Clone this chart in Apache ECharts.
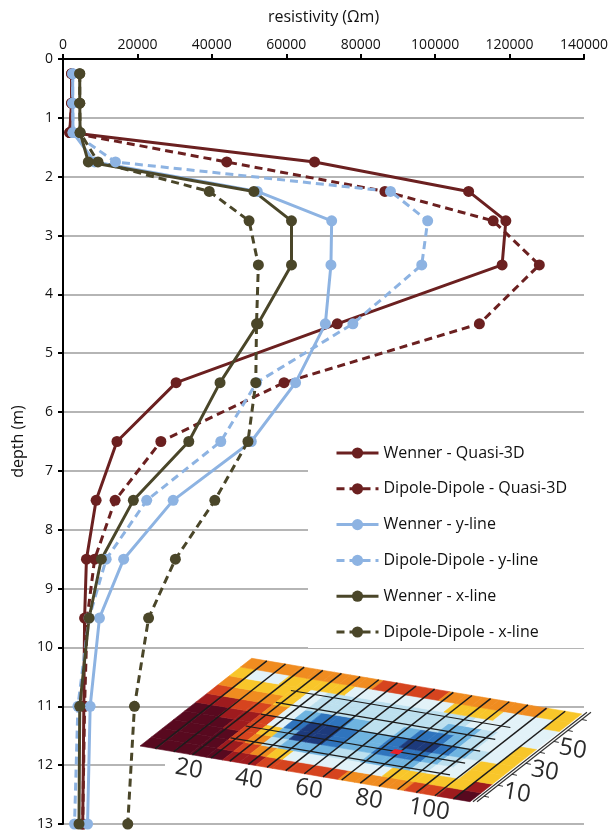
<!DOCTYPE html>
<html><head><meta charset="utf-8">
<script src="https://cdn.jsdelivr.net/npm/echarts@6/dist/echarts.min.js"></script>
<style>html,body{margin:0;padding:0;background:#fff}#c{width:611px;height:831px}</style>
</head><body><div id="c"></div><script>
// ---- data ----
const depths = [0.25, 0.75, 1.25, 1.75, 2.25, 2.75, 3.5, 4.5, 5.5, 6.5, 7.5, 8.5, 9.5, 11, 13];
const seriesNames = ['Wenner - Quasi-3D', 'Dipole-Dipole - Quasi-3D', 'Wenner - y-line', 'Dipole-Dipole - y-line', 'Wenner - x-line', 'Dipole-Dipole - x-line'];
const wennerQ3D = [2300, 2300, 1800, 67600, 109000, 119000, 118000, 73700, 30400, 14500, 8900, 6300, 5800, 5600, 5300];
const dipoleQ3D = [2300, 2300, 1800, 44000, 86500, 115600, 128000, 111900, 59400, 26300, 14000, 8500, 6500, 5800, 5300];
const wennerY = [2600, 2600, 2700, 8500, 52200, 72200, 72000, 70500, 62500, 50600, 29600, 16300, 9800, 7300, 6600];
const dipoleY = [2600, 2600, 2700, 14100, 88000, 98000, 96400, 77900, 52000, 42400, 22500, 11600, 7000, 4000, 3100];
const wennerX = [4500, 4500, 4600, 6800, 51300, 61400, 61400, 52400, 42200, 33800, 18900, 10300, 7000, 4500, 4300];
const dipoleX = [4500, 4500, 4600, 9400, 39300, 50000, 52500, 52000, 51800, 49700, 40800, 30200, 23000, 19200, 17400];
const xTicks = [0, 20000, 40000, 60000, 80000, 100000, 120000, 140000];
const yTicks = [0, 1, 2, 3, 4, 5, 6, 7, 8, 9, 10, 11, 12, 13];
// inset map: colour level per cell, rows from front edge (first) to back edge (last)
const insetRows = [
  '00000112222233332210',
  '00001234555555444441',
  '00002367776677765544',
  '00012479987788876544',
  '00112589987789987654',
  '11223578876678876554',
  '23334566666666776555',
  '34444566666666655555',
  '45544445555554445554',
  '33333333222233333344'
];
const insetXLabels = [20, 40, 60, 80, 100];
const insetYLabels = [10, 30, 50];

// ---- styles / layout ----
const FONT = '"Open Sans", sans-serif';
const C_RED = '#6b2020', C_BLUE = '#8db3e2', C_OLIVE = '#4a4629';
const palette = ['#58091f', '#9e1b1e', '#d6441f', '#f08c20', '#f8c62a', '#e2f2f8', '#bde0ef', '#6fb4e0', '#2f74bd', '#1d3a7c'];
const P0 = [140, 746], FV = [330, 55.7], SV = [111.7, -87.7];
function pt(u, v) { return [P0[0] + u * FV[0] + v * SV[0], P0[1] + u * FV[1] + v * SV[1]]; }

function mk(name, vals, color, dashed) {
  return {
    name, type: 'line', data: vals.map((v, i) => [v, depths[i]]),
    symbol: 'circle', symbolSize: 11, showSymbol: true,
    lineStyle: { color, width: 3, type: dashed ? [8, 5] : 'solid' },
    itemStyle: { color }, z: 2, animation: false
  };
}

const nRows = insetRows.length, nCols = insetRows[0].length;
const cellData = [];
insetRows.forEach((row, r) => { for (let c = 0; c < row.length; c++) cellData.push([c, r, +row[c]]); });

const graphics = [];
graphics.push({ type: 'rect', shape: { x: 165, y: 748, width: 430, height: 70 }, style: { fill: '#fff' }, z: 1 });
for (let k = 0; k < 17; k++) {
  const u = 0.046 + 0.0565 * k;
  const a = pt(u, 0), b = pt(u, 1);
  graphics.push({ type: 'line', shape: { x1: a[0], y1: a[1], x2: b[0], y2: b[1] }, style: { stroke: '#1c1c1c', lineWidth: 1.5 }, z: 4 });
}
[0.22, 0.355, 0.49, 0.625, 0.76].forEach(v => {
  const a = pt(0.2, v), b = pt(0.865, v);
  graphics.push({ type: 'line', shape: { x1: a[0], y1: a[1], x2: b[0], y2: b[1] }, style: { stroke: '#1c1c1c', lineWidth: 1.2 }, z: 4 });
});
(function () {
  const p = [pt(0.645, 0.33), pt(0.672, 0.33), pt(0.672, 0.375), pt(0.645, 0.375)];
  graphics.push({ type: 'polygon', shape: { points: p }, style: { fill: '#e8202a' }, z: 4 });
})();
[3, 7].forEach(off => {
  const a = pt(1, 0), b = pt(1, 1.02);
  graphics.push({ type: 'line', shape: { x1: a[0] + off, y1: a[1], x2: b[0] + off, y2: b[1] }, style: { stroke: '#333', lineWidth: 1.2 }, z: 4 });
});
for (let val = 0; val <= 70; val += 10) {
  const p = pt(1, (val + 5) / 80);
  graphics.push({ type: 'line', shape: { x1: p[0] + 7, y1: p[1], x2: p[0] + 12, y2: p[1] + 1 }, style: { stroke: '#333', lineWidth: 1 }, z: 4 });
}
insetXLabels.forEach(val => {
  const p = pt(val / 110, 0);
  graphics.push({ type: 'text', x: p[0] - 11, y: p[1] + 13, rotation: -0.167,
    style: { text: String(val), font: '24px ' + FONT, fill: '#2b2b2b', align: 'center', verticalAlign: 'middle' }, z: 4 });
});
insetYLabels.forEach(val => {
  const p = pt(1, (val + 5) / 80);
  graphics.push({ type: 'text', x: p[0] + 26, y: p[1] + 8, rotation: -0.167,
    style: { text: String(val), font: '24px ' + FONT, fill: '#2b2b2b', align: 'center', verticalAlign: 'middle' }, z: 4 });
});

const chart = echarts.init(document.getElementById('c'), null, { renderer: 'canvas' });
chart.setOption({
  animation: false,
  backgroundColor: '#fff',
  textStyle: { fontFamily: FONT },
  grid: { left: 63, right: 25, top: 59, bottom: 6 },
  xAxis: {
    type: 'value', position: 'top', min: xTicks[0], max: xTicks[xTicks.length - 1], interval: xTicks[1] - xTicks[0],
    name: 'resistivity (Ωm)', nameLocation: 'middle', nameGap: 34,
    nameTextStyle: { fontSize: 16, color: '#111', fontFamily: FONT },
    axisLine: { show: true, lineStyle: { color: '#000', width: 2 } },
    axisTick: { show: true, length: 5, lineStyle: { color: '#000', width: 2 } },
    axisLabel: { fontSize: 14, color: '#111', margin: 7, fontFamily: FONT, formatter: v => String(v) },
    splitLine: { show: false }
  },
  yAxis: {
    type: 'value', inverse: true, min: yTicks[0], max: yTicks[yTicks.length - 1], interval: 1,
    name: 'depth (m)', nameLocation: 'middle', nameGap: 37, nameRotate: 90,
    nameTextStyle: { fontSize: 16, color: '#111', fontFamily: FONT },
    axisLine: { show: true, lineStyle: { color: '#000', width: 2 } },
    axisTick: { show: true, length: 5, lineStyle: { color: '#000', width: 2 } },
    axisLabel: { fontSize: 14, color: '#111', margin: 10, fontFamily: FONT },
    splitLine: { show: true, lineStyle: { color: '#b5b5b5', width: 2 } }
  },
  legend: {
    orient: 'vertical', left: 308, top: 429,
    backgroundColor: '#fff', padding: [16, 22, 8, 27],
    itemWidth: 42, itemHeight: 14, itemGap: 19.8,
    lineStyle: { width: 3 },
    textStyle: { fontSize: 16, color: '#111', fontFamily: FONT },
    data: seriesNames, z: 6
  },
  graphic: { elements: graphics },
  series: [
    mk(seriesNames[0], wennerQ3D, C_RED, false),
    mk(seriesNames[1], dipoleQ3D, C_RED, true),
    mk(seriesNames[2], wennerY, C_BLUE, false),
    mk(seriesNames[3], dipoleY, C_BLUE, true),
    mk(seriesNames[4], wennerX, C_OLIVE, false),
    mk(seriesNames[5], dipoleX, C_OLIVE, true),
    {
      type: 'custom', coordinateSystem: 'none', data: cellData, z: 3, silent: true,
      renderItem: function (params, api) {
        const c = api.value(0), r = api.value(1), lv = api.value(2);
        const pts = [pt(c / nCols, r / nRows), pt((c + 1) / nCols, r / nRows), pt((c + 1) / nCols, (r + 1) / nRows), pt(c / nCols, (r + 1) / nRows)];
        return { type: 'polygon', shape: { points: pts }, style: { fill: palette[lv], stroke: palette[lv], lineWidth: 0.6 } };
      }
    }
  ]
});
</script></body></html>
